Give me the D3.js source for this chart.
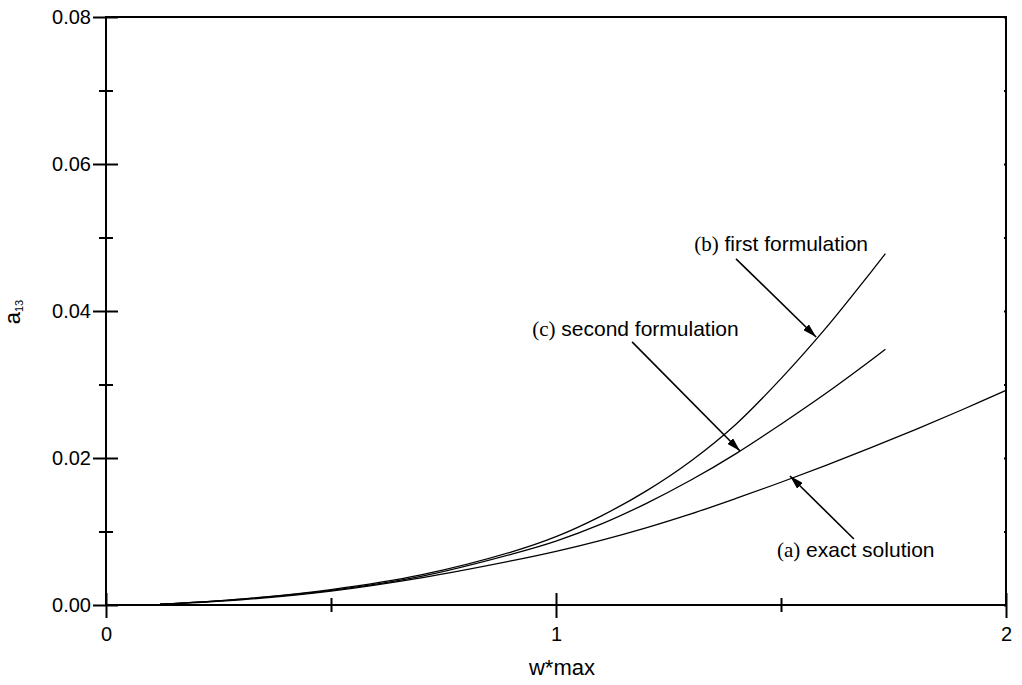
<!DOCTYPE html>
<html>
<head>
<meta charset="utf-8">
<script src="https://cdn.jsdelivr.net/npm/d3@7"></script>
<style>
  body { margin: 0; background: #fff; }
  text { font-family: "Liberation Sans", Arial, sans-serif; fill: #000; }
</style>
</head>
<body>
<div id="chart"></div>
<script>
// values
var xTicksMajor = [0, 1, 2];
var xTicksMinor = [0.5, 1.5];
var yTicksMajor = [0, 0.02, 0.04, 0.06, 0.08];
var yTicksMinor = [0.01, 0.03, 0.05, 0.07];

// (a) exact solution
var exactX = [0.12, 0.3, 0.5, 0.7, 0.9, 1.0, 1.1, 1.2, 1.3, 1.4, 1.5, 1.6, 1.7, 1.8, 1.9, 2.0];
var exactY = [0.0001, 0.0007, 0.0019, 0.0037, 0.0060, 0.0073, 0.0088, 0.0105, 0.0124, 0.0145, 0.0167, 0.0190, 0.0214, 0.0239, 0.0265, 0.0292];
// (b) first formulation
var firstX = [0.12, 0.3, 0.5, 0.7, 0.9, 1.0, 1.1, 1.2, 1.3, 1.4, 1.5, 1.6, 1.7, 1.732];
var firstY = [0.0001, 0.0008, 0.0021, 0.0041, 0.0072, 0.0093, 0.0121, 0.0155, 0.0196, 0.0246, 0.0308, 0.0377, 0.0453, 0.0478];
// (c) second formulation
var secondX = [0.12, 0.3, 0.5, 0.7, 0.9, 1.0, 1.1, 1.2, 1.3, 1.4, 1.5, 1.6, 1.7, 1.732];
var secondY = [0.0001, 0.0008, 0.0020, 0.0039, 0.0069, 0.0087, 0.0110, 0.0138, 0.0170, 0.0206, 0.0246, 0.0288, 0.0333, 0.0348];

// annotations: tag, text, label position, arrow start, arrow tip (data units)
var noteTag = ["(a)", "(b)", "(c)"];
var noteText = [" exact solution", " first formulation", " second formulation"];
var noteLabel = [[1.491, 0.00653], [1.307, 0.0482], [0.947, 0.0366]];
var noteFrom = [[1.662, 0.00898], [1.40, 0.0471], [1.169, 0.0358]];
var noteTo = [[1.52, 0.01755], [1.578, 0.03646], [1.409, 0.02095]];

var w = 1022, h = 685;
var margin = {top: 17, right: 16, bottom: 80, left: 106};

var svg = d3.select("#chart").append("svg")
    .attr("width", w)
    .attr("height", h);

var x = d3.scaleLinear().domain([0, 2]).range([margin.left, w - margin.right]);
var y = d3.scaleLinear().domain([0, 0.08]).range([h - margin.bottom, margin.top]);

// arrow head
svg.append("defs").append("marker")
    .attr("id", "head")
    .attr("markerUnits", "userSpaceOnUse")
    .attr("viewBox", "0 0 14 8")
    .attr("refX", 14)
    .attr("refY", 4)
    .attr("markerWidth", 14)
    .attr("markerHeight", 8)
    .attr("orient", "auto")
    .append("path")
    .attr("d", "M0,0 L14,4 L0,8 Z")
    .attr("fill", "#000");

// curves
var line = d3.line()
    .x(function(d) { return x(d[0]); })
    .y(function(d) { return y(d[1]); })
    .curve(d3.curveCatmullRom);

var series = [d3.zip(exactX, exactY), d3.zip(firstX, firstY), d3.zip(secondX, secondY)];
svg.selectAll("path.curve")
    .data(series)
    .enter()
    .append("path")
    .attr("class", "curve")
    .attr("d", line)
    .attr("fill", "none")
    .attr("stroke", "#000")
    .attr("stroke-width", 1.3);

// frame
svg.append("rect")
    .attr("x", x(0))
    .attr("y", y(0.08))
    .attr("width", x(2) - x(0))
    .attr("height", y(0) - y(0.08))
    .attr("fill", "none")
    .attr("stroke", "#000")
    .attr("stroke-width", 2);

// each tick set gets its own group so they don't overwrite each other
function addAxis(axis, tx, ty) {
    return svg.append("g")
        .attr("transform", "translate(" + tx + "," + ty + ")")
        .call(axis);
}

// bottom axis, ticks crossing the line
addAxis(d3.axisBottom(x).tickValues(xTicksMajor).tickSize(13).tickPadding(9).tickFormat(d3.format("d")), 0, y(0));
addAxis(d3.axisTop(x).tickValues(xTicksMajor).tickSize(12).tickFormat(""), 0, y(0));
addAxis(d3.axisBottom(x).tickValues(xTicksMinor).tickSize(7).tickFormat(""), 0, y(0));
addAxis(d3.axisTop(x).tickValues(xTicksMinor).tickSize(7).tickFormat(""), 0, y(0));

// left axis, ticks crossing the line
addAxis(d3.axisLeft(y).tickValues(yTicksMajor).tickSize(13).tickPadding(2).tickFormat(d3.format(".2f")), x(0), 0);
addAxis(d3.axisRight(y).tickValues(yTicksMajor).tickSize(12).tickFormat(""), x(0), 0);
addAxis(d3.axisLeft(y).tickValues(yTicksMinor).tickSize(7).tickFormat(""), x(0), 0);
addAxis(d3.axisRight(y).tickValues(yTicksMinor).tickSize(7).tickFormat(""), x(0), 0);

// tiny ticks on the right side
addAxis(d3.axisLeft(y).tickValues(yTicksMajor.concat(yTicksMinor)).tickSize(2).tickFormat(""), x(2), 0);

svg.selectAll(".domain").remove();
svg.selectAll(".tick line").attr("stroke", "#000").attr("stroke-width", 2);
svg.selectAll(".tick text")
    .attr("font-family", "Liberation Sans, Arial, sans-serif")
    .attr("font-size", "20px")
    .attr("fill", "#000");

// axis titles
svg.append("text")
    .attr("x", 562)
    .attr("y", 675)
    .attr("text-anchor", "middle")
    .attr("font-size", "22px")
    .text("w*max");

var yt = svg.append("text")
    .attr("transform", "translate(20,312) rotate(-90)")
    .attr("text-anchor", "middle")
    .attr("font-size", "22px");
yt.append("tspan").text("a");
yt.append("tspan").attr("font-size", "11px").attr("dy", 3).text("13");

// annotations
var notes = svg.selectAll("g.note")
    .data(d3.range(noteTag.length))
    .enter()
    .append("g")
    .attr("class", "note");

notes.append("line")
    .attr("x1", function(i) { return x(noteFrom[i][0]); })
    .attr("y1", function(i) { return y(noteFrom[i][1]); })
    .attr("x2", function(i) { return x(noteTo[i][0]); })
    .attr("y2", function(i) { return y(noteTo[i][1]); })
    .attr("stroke", "#000")
    .attr("stroke-width", 1.6)
    .attr("marker-end", "url(#head)");

var lab = notes.append("text")
    .attr("x", function(i) { return x(noteLabel[i][0]); })
    .attr("y", function(i) { return y(noteLabel[i][1]); })
    .attr("font-size", "21px")
    .attr("xml:space", "preserve");
lab.append("tspan")
    .attr("font-family", "Liberation Serif, Times New Roman, serif")
    .text(function(i) { return noteTag[i]; });
lab.append("tspan")
    .text(function(i) { return noteText[i]; });
</script>
</body>
</html>
